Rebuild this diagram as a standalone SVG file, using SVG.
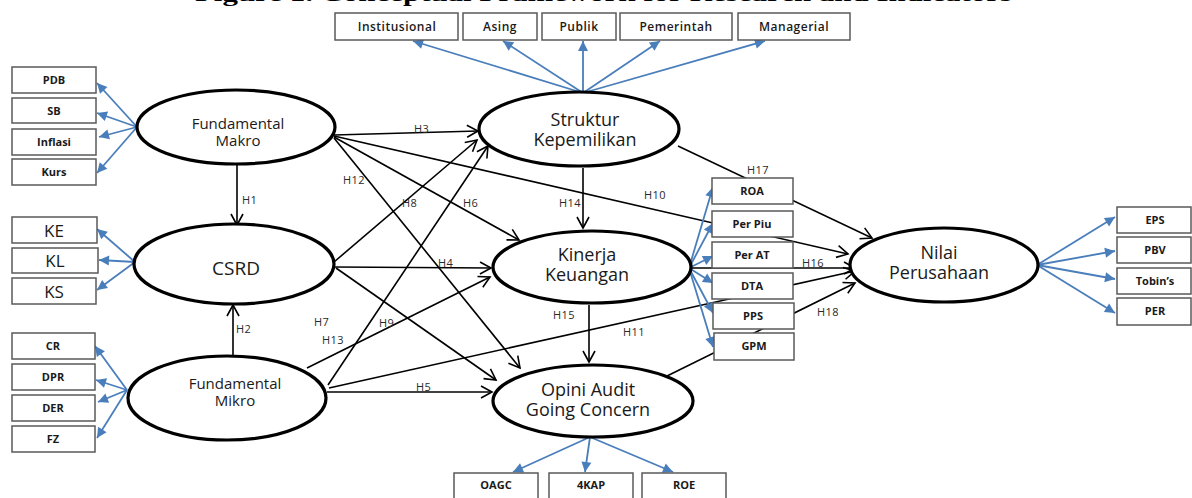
<svg xmlns="http://www.w3.org/2000/svg" width="1192" height="498" viewBox="0 0 1192 498">
<style>
.bg{fill:#fff}
.ell{fill:#fff;stroke:#000;stroke-width:3.2}
.box{fill:#fff;stroke:#5a5a5a;stroke-width:1.5}
.blue{stroke:#4a7ebb;stroke-width:1.8;fill:none;marker-end:url(#ba)}
.blk{stroke:#000;stroke-width:1.6;fill:none}
.arr{marker-end:url(#ka)}
.et{font-family:"Open Sans","DejaVu Sans",sans-serif;font-size:18px;fill:#1a1a1a;text-anchor:middle}
.es{font-family:"Open Sans","DejaVu Sans",sans-serif;font-size:15px;fill:#1a1a1a;text-anchor:middle}
.bt{font-family:"Open Sans","DejaVu Sans",sans-serif;font-size:11px;font-weight:bold;fill:#1a1a1a;text-anchor:middle}
.tt{font-family:"Open Sans","DejaVu Sans",sans-serif;font-size:12px;font-weight:600;letter-spacing:0.5px;fill:#1a1a1a;text-anchor:middle}
.kt{font-family:"Open Sans","DejaVu Sans",sans-serif;font-size:17px;fill:#1a1a1a;text-anchor:middle}
.h{font-family:"Open Sans","DejaVu Sans",sans-serif;font-size:11px;letter-spacing:0.4px;fill:#2a2a2a}
.title{font-family:"Liberation Serif","DejaVu Serif",serif;font-size:22px;font-weight:bold;fill:#000}
</style>
<defs>
<marker id="ba" markerUnits="userSpaceOnUse" markerWidth="12" markerHeight="12" viewBox="-11 -6 12 12" refX="0" refY="0" orient="auto" overflow="visible">
<path d="M0,0 L-10,-5 L-10,5 Z" fill="#4a7ebb"/>
</marker>
<marker id="ka" markerUnits="userSpaceOnUse" markerWidth="14" markerHeight="14" viewBox="-13 -7 14 14" refX="0" refY="0" orient="auto" overflow="visible">
<path d="M-11,-6 L0,0 L-11,6" fill="none" stroke="#000" stroke-width="1.6"/>
</marker>
</defs>
<rect class="bg" x="0" y="0" width="1192" height="498"/>
<text class="title" x="195" y="1" textLength="817" lengthAdjust="spacingAndGlyphs">Figure 1. Conceptual Framework for Research and Indicators</text>

<g id="connectors">
<path class="blue" d="M583,93 L413,41"/>
<path class="blue" d="M583,93 L503,41"/>
<path class="blue" d="M583,93 L583,41"/>
<path class="blue" d="M583,93 L660,41"/>
<path class="blue" d="M583,93 L765,41"/>
<path class="blue" d="M137,127 L97,83"/>
<path class="blue" d="M137,127 L97,113"/>
<path class="blue" d="M137,127 L99,137"/>
<path class="blue" d="M137,127 L97,173"/>
<path class="blue" d="M135,262 L97,229"/>
<path class="blue" d="M135,262 L99,260"/>
<path class="blue" d="M135,262 L97,290"/>
<path class="blue" d="M127,390 L95,346"/>
<path class="blue" d="M127,390 L96,380"/>
<path class="blue" d="M127,390 L98,402"/>
<path class="blue" d="M127,390 L97,438"/>
<path class="blue" d="M1037,265 L1115,217"/>
<path class="blue" d="M1037,265 L1115,251"/>
<path class="blue" d="M1037,265 L1115,279"/>
<path class="blue" d="M1037,265 L1115,313"/>
<path class="blue" d="M590,437 L513,472"/>
<path class="blue" d="M590,437 L585,472"/>
<path class="blue" d="M590,437 L673,472"/>
<path class="blk arr" d="M237,164 L237,225"/>
<path class="blk arr" d="M233,356 L233,305"/>
<path class="blk arr" d="M334,135 L478,131"/>
<path class="blk arr" d="M334,136 L848,254"/>
<path class="blk arr" d="M334,137 L519,240"/>
<path class="blk arr" d="M334,138 L520,368"/>
<path class="blk arr" d="M334,262 L477,140"/>
<path class="blk arr" d="M335,267 L491,268"/>
<path class="blk arr" d="M336,268 L496,380"/>
<path class="blk arr" d="M328,385 L488,146"/>
<path class="blk arr" d="M307,368 L490,277"/>
<path class="blk arr" d="M329,388 L855,271"/>
<path class="blk arr" d="M327,392 L492,392"/>
<path class="blk arr" d="M583,168 L583,228"/>
<path class="blk arr" d="M589,305 L589,362"/>
<path class="blk arr" d="M678,146 L872,238"/>
<path class="blk arr" d="M690,268 L855,268"/>
<path class="blk arr" d="M665,377 L855,283"/>
<path class="blue" d="M689,268 L713,187"/>
<path class="blue" d="M689,268 L713,223"/>
<path class="blue" d="M689,268 L713,256"/>
<path class="blue" d="M689,268 L713,283"/>
<path class="blue" d="M689,268 L713,313"/>
<path class="blue" d="M689,268 L713,347"/>
<text class="h" x="414" y="133">H3</text>
<text class="h" x="242" y="204">H1</text>
<text class="h" x="343" y="184">H12</text>
<text class="h" x="402" y="207">H8</text>
<text class="h" x="463" y="207">H6</text>
<text class="h" x="644" y="199">H10</text>
<text class="h" x="747" y="174">H17</text>
<text class="h" x="559" y="207">H14</text>
<text class="h" x="438" y="267">H4</text>
<text class="h" x="802" y="267">H16</text>
<text class="h" x="236" y="333">H2</text>
<text class="h" x="314" y="326">H7</text>
<text class="h" x="379" y="327">H9</text>
<text class="h" x="322" y="344">H13</text>
<text class="h" x="553" y="319">H15</text>
<text class="h" x="623" y="336">H11</text>
<text class="h" x="817" y="316">H18</text>
<text class="h" x="416" y="391">H5</text>
</g>

<g id="makro">
<ellipse class="ell" cx="236" cy="127" rx="99" ry="37"/>
<text class="es" x="238" y="129">Fundamental</text>
<text class="es" x="238" y="146">Makro</text>
</g>
<g id="csrd">
<ellipse class="ell" cx="234" cy="264" rx="100" ry="40"/>
<text class="et" x="236" y="275" style="font-size:19px">CSRD</text>
</g>
<g id="mikro">
<ellipse class="ell" cx="227" cy="398" rx="99" ry="42"/>
<text class="es" x="235" y="389">Fundamental</text>
<text class="es" x="235" y="406">Mikro</text>
</g>
<g id="struktur">
<ellipse class="ell" cx="579" cy="129" rx="100" ry="37"/>
<text class="et" x="585" y="126">Struktur</text>
<text class="et" x="585" y="146">Kepemilikan</text>
</g>
<g id="kinerja">
<ellipse class="ell" cx="592" cy="267" rx="99" ry="36"/>
<text class="et" x="587" y="261">Kinerja</text>
<text class="et" x="587" y="281">Keuangan</text>
</g>
<g id="opini">
<ellipse class="ell" cx="593" cy="401" rx="100" ry="36"/>
<text class="et" x="588" y="396">Opini Audit</text>
<text class="et" x="588" y="416">Going Concern</text>
</g>
<g id="nilai">
<ellipse class="ell" cx="944" cy="265" rx="94" ry="37"/>
<text class="et" x="939" y="259">Nilai</text>
<text class="et" x="939" y="279">Perusahaan</text>
</g>

<g id="ind-institusional"><rect class="box" x="335" y="13" width="123" height="27"/><text class="tt" x="397" y="31">Institusional</text></g>
<g id="ind-asing"><rect class="box" x="463" y="13" width="74" height="27"/><text class="tt" x="500" y="31">Asing</text></g>
<g id="ind-publik"><rect class="box" x="542" y="13" width="74" height="27"/><text class="tt" x="579" y="31">Publik</text></g>
<g id="ind-pemerintah"><rect class="box" x="620" y="13" width="112" height="27"/><text class="tt" x="676" y="31">Pemerintah</text></g>
<g id="ind-managerial"><rect class="box" x="738" y="13" width="112" height="27"/><text class="tt" x="794" y="31">Managerial</text></g>

<g id="ind-pdb"><rect class="box" x="12" y="67" width="84" height="26"/><text class="bt" x="54" y="84">PDB</text></g>
<g id="ind-sb"><rect class="box" x="12" y="98" width="84" height="25"/><text class="bt" x="54" y="115">SB</text></g>
<g id="ind-inflasi"><rect class="box" x="12" y="129" width="84" height="26"/><text class="bt" x="54" y="146">Inflasi</text></g>
<g id="ind-kurs"><rect class="box" x="12" y="159" width="84" height="26"/><text class="bt" x="54" y="176">Kurs</text></g>

<g id="ind-ke"><rect class="box" x="12" y="217" width="85" height="26"/><text class="kt" x="54" y="237">KE</text></g>
<g id="ind-kl"><rect class="box" x="12" y="248" width="86" height="25"/><text class="kt" x="55" y="267">KL</text></g>
<g id="ind-ks"><rect class="box" x="12" y="278" width="84" height="26"/><text class="kt" x="54" y="298">KS</text></g>

<g id="ind-cr"><rect class="box" x="12" y="333" width="83" height="26"/><text class="bt" x="53" y="350">CR</text></g>
<g id="ind-dpr"><rect class="box" x="12" y="364" width="83" height="26"/><text class="bt" x="53" y="381">DPR</text></g>
<g id="ind-der"><rect class="box" x="12" y="395" width="83" height="26"/><text class="bt" x="53" y="412">DER</text></g>
<g id="ind-fz"><rect class="box" x="12" y="426" width="83" height="26"/><text class="bt" x="53" y="443">FZ</text></g>

<g id="ind-roa"><rect class="box" x="712" y="178" width="81" height="26"/><text class="bt" x="752" y="195">ROA</text></g>
<g id="ind-perpiu"><rect class="box" x="712" y="211" width="81" height="26"/><text class="bt" x="752" y="228">Per Piu</text></g>
<g id="ind-perat"><rect class="box" x="712" y="242" width="81" height="26"/><text class="bt" x="752" y="259">Per AT</text></g>
<g id="ind-dta"><rect class="box" x="712" y="273" width="81" height="26"/><text class="bt" x="752" y="290">DTA</text></g>
<g id="ind-pps"><rect class="box" x="713" y="303" width="81" height="26"/><text class="bt" x="753" y="320">PPS</text></g>
<g id="ind-gpm"><rect class="box" x="714" y="333" width="80" height="27"/><text class="bt" x="754" y="350">GPM</text></g>

<g id="ind-eps"><rect class="box" x="1117" y="207" width="74" height="26"/><text class="bt" x="1155" y="224">EPS</text></g>
<g id="ind-pbv"><rect class="box" x="1117" y="237" width="74" height="26"/><text class="bt" x="1155" y="254">PBV</text></g>
<g id="ind-tobin"><rect class="box" x="1117" y="268" width="74" height="26"/><text class="bt" x="1155" y="285">Tobin’s</text></g>
<g id="ind-per"><rect class="box" x="1117" y="298" width="74" height="27"/><text class="bt" x="1155" y="315">PER</text></g>

<g id="ind-oagc"><rect class="box" x="454" y="473" width="84" height="30"/><text class="bt" x="496" y="489">OAGC</text></g>
<g id="ind-4kap"><rect class="box" x="549" y="473" width="84" height="30"/><text class="bt" x="591" y="489">4KAP</text></g>
<g id="ind-roe"><rect class="box" x="642" y="473" width="84" height="30"/><text class="bt" x="684" y="489">ROE</text></g>
</svg>
